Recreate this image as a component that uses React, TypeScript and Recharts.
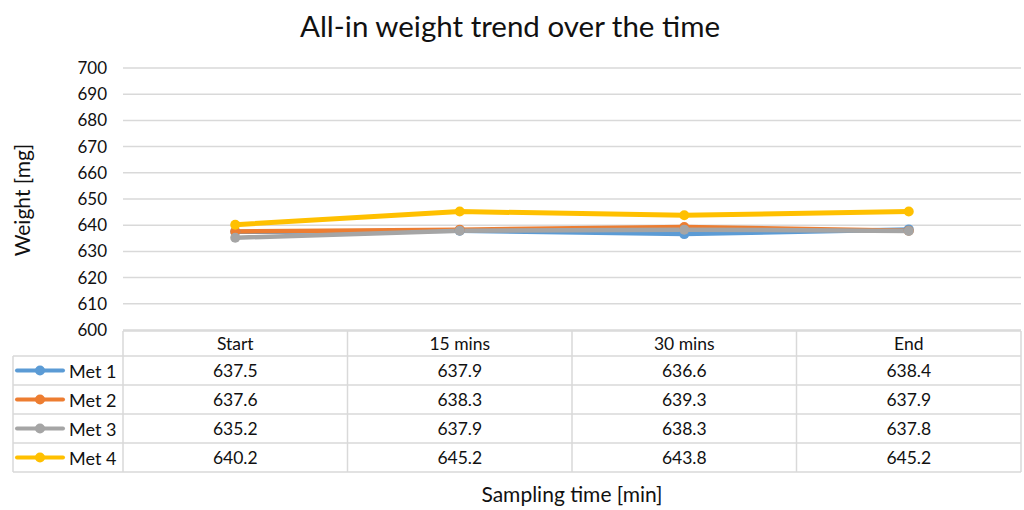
import { LineChart, Line, XAxis, YAxis, CartesianGrid, Customized } from 'recharts'

const categories = ['Start', '15 mins', '30 mins', 'End']
const met1 = [637.5, 637.9, 636.6, 638.4]
const met2 = [637.6, 638.3, 639.3, 637.9]
const met3 = [635.2, 637.9, 638.3, 637.8]
const met4 = [640.2, 645.2, 643.8, 645.2]
const yTicks = [600, 610, 620, 630, 640, 650, 660, 670, 680, 690, 700]

const seriesList = [
  { key: 'met1', name: 'Met 1', values: met1, color: '#5B9BD5' },
  { key: 'met2', name: 'Met 2', values: met2, color: '#ED7D31' },
  { key: 'met3', name: 'Met 3', values: met3, color: '#A5A5A5' },
  { key: 'met4', name: 'Met 4', values: met4, color: '#FFC000' },
]

const chartData = categories.map((cat, i) => ({
  cat,
  met1: met1[i],
  met2: met2[i],
  met3: met3[i],
  met4: met4[i],
}))

const FONT = 'Lato, "Open Sans", sans-serif'
const TEXT = '#111'
const GRID = '#d9d9d9'

// table layout
const plotLeft = 123
const plotRight = 1021
const tableLeft = 13
const headerTop = 331
const rowLines = [356, 385, 414, 443, 472]
const halfBand = (plotRight - plotLeft) / 8

// column of the data table, placed under each category tick
function TableColumn(props: any) {
  const { x, payload } = props
  const i = categories.indexOf(payload.value)
  return (
    <g fontFamily={FONT} fontSize={17.5} fill={TEXT}>
      <text x={x} y={343} textAnchor="middle" dominantBaseline="central" fill={TEXT}>
        {payload.value}
      </text>
      {seriesList.map((s, r) => (
        <text
          key={s.key}
          x={x}
          y={(rowLines[r] + rowLines[r + 1]) / 2}
          textAnchor="middle"
          dominantBaseline="central"
          fill={TEXT}
        >
          {s.values[i].toFixed(1)}
        </text>
      ))}
    </g>
  )
}

function TableFrame() {
  const cols = [0, 1, 2, 3, 4].map((k) => plotLeft + k * halfBand * 2)
  return (
    <g>
      <line x1={plotLeft} x2={plotRight} y1={headerTop} y2={headerTop} stroke={GRID} strokeWidth={1.5} />
      {rowLines.map((y) => (
        <line key={y} x1={tableLeft} x2={plotRight} y1={y} y2={y} stroke={GRID} strokeWidth={1.5} />
      ))}
      <line x1={tableLeft} x2={tableLeft} y1={rowLines[0]} y2={rowLines[4]} stroke={GRID} strokeWidth={1.5} />
      {cols.map((x) => (
        <line key={x} x1={x} x2={x} y1={headerTop} y2={rowLines[4]} stroke={GRID} strokeWidth={1.5} />
      ))}
      {seriesList.map((s, r) => {
        const cy = (rowLines[r] + rowLines[r + 1]) / 2
        return (
          <g key={s.key}>
            <line x1={17} x2={63} y1={cy} y2={cy} stroke={s.color} strokeWidth={4} strokeLinecap="round" />
            <circle cx={40} cy={cy} r={5} fill={s.color} />
            <text x={69} y={cy} dominantBaseline="central" fontFamily={FONT} fontSize={18} fill={TEXT}>
              {s.name}
            </text>
          </g>
        )
      })}
      <text x={510} y={25} textAnchor="middle" dominantBaseline="central" fontFamily={FONT} fontSize={29.5} fill={TEXT}>
        All-in weight trend over the time
      </text>
      <text
        x={21}
        y={200}
        textAnchor="middle"
        dominantBaseline="central"
        transform="rotate(-90 21 200)"
        fontFamily={FONT}
        fontSize={21}
        fill={TEXT}
      >
        Weight [mg]
      </text>
      <text x={572} y={493} textAnchor="middle" dominantBaseline="central" fontFamily={FONT} fontSize={21} fill={TEXT}>
        Sampling time [min]
      </text>
    </g>
  )
}

export default function App() {
  return (
    <div style={{ position: 'absolute', left: 0, top: 0, background: '#fff' }}>
      <LineChart width={1024} height={510} data={chartData} margin={{ top: 68, right: 3, bottom: 0, left: 0 }}>
        <CartesianGrid vertical={false} stroke={GRID} strokeWidth={1.5} />
        <XAxis
          dataKey="cat"
          height={180}
          axisLine={false}
          tickLine={false}
          padding={{ left: halfBand, right: halfBand }}
          tick={<TableColumn />}
          interval={0}
        />
        <YAxis
          width={123}
          domain={[600, 700]}
          ticks={yTicks}
          axisLine={false}
          tickLine={false}
          tickMargin={10}
          tick={{ fontFamily: FONT, fontSize: 17, fill: TEXT }}
        />
        {seriesList.map((s) => (
          <Line
            key={s.key}
            dataKey={s.key}
            name={s.name}
            stroke={s.color}
            strokeWidth={s.key === 'met4' ? 5 : 4.5}
            dot={{ r: 5, fill: s.color, stroke: s.color, strokeWidth: 0 }}
            isAnimationActive={false}
          />
        ))}
        <Customized component={<TableFrame />} />
      </LineChart>
    </div>
  )
}
